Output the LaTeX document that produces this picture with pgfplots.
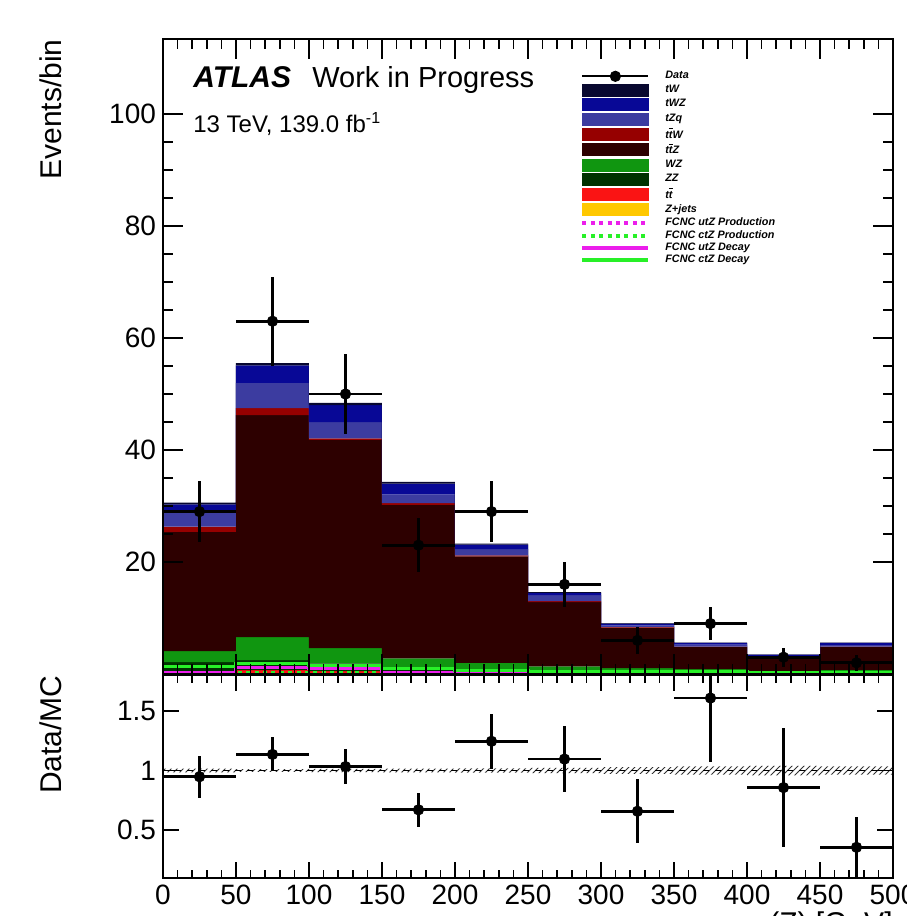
\documentclass[border=0pt]{standalone}
\usepackage{fontspec}
\setmainfont{Liberation Sans}
\usepackage{pgfplots}
\pgfplotsset{compat=1.18}
\usepackage{pgfplotstable}
\usetikzlibrary{patterns}

\definecolor{cTW}{RGB}{8,8,48}
\definecolor{cTWZ}{RGB}{8,8,150}
\definecolor{cTZQ}{RGB}{60,60,160}
\definecolor{cTTW}{RGB}{150,0,0}
\definecolor{cTTZ}{RGB}{45,0,0}
\definecolor{cWZ}{RGB}{16,150,16}
\definecolor{cZZ}{RGB}{0,50,0}
\definecolor{cTT}{RGB}{250,20,20}
\definecolor{cZJ}{RGB}{255,200,0}
\definecolor{cU}{RGB}{235,30,235}
\definecolor{cC}{RGB}{40,240,40}

% MC stack, per bin (low edge), last row repeats last bin
\pgfplotstableread{
x   zj   tt   zz   wz    ttz    ttw   tzq  twz  tw
0   0.2  0.3  1.6  2.0   21.3   0.9   2.5  1.5  0.3
50  0.2  0.5  1.8  4.1   39.65  1.25  4.5  3.1  0.4
100 0.2  0.3  1.4  2.7   37.2   0.3   2.9  3.0  0.4
150 0.1  0.2  0.8  1.7   27.4   0.3   1.6  1.9  0.3
200 0.1  0.1  0.6  1.2   19.0   0.2   1.1  0.8  0.2
250 0.1  0.1  0.4  0.75  11.5   0.15  1.1  0.4  0.1
300 0.1  0.05 0.3  0.6   7.25   0.1   0.3  0.3  0.1
350 0.1  0.05 0.2  0.5   4.0    0.05  0.35 0.3  0.05
400 0.1  0.0  0.1  0.3   2.45   0.05  0.2  0.25 0.05
450 0.1  0.05 0.2  0.4   4.1    0.05  0.3  0.35 0.05
500 0.1  0.05 0.2  0.4   4.1    0.05  0.3  0.35 0.05
}\stack

% FCNC signal lines
\pgfplotstableread{
x   uP   cP   uD   cD
0   0.15 0.15 0.3  1.3
50  0.3  0.3  1.1  1.9
100 0.3  0.3  1.0  1.6
150 0.1  0.1  0.3  0.9
200 0.1  0.1  0.2  0.7
250 0.05 0.05 0.1  0.5
300 0.05 0.05 0.05 0.4
350 0.02 0.02 0.05 0.4
400 0.02 0.02 0.02 0.3
450 0.02 0.02 0.02 0.3
500 0.02 0.02 0.02 0.3
}\fcnc

% Data
\pgfplotstableread{
x   y   ex  ey
25  29  25  5.39
75  63  25  7.94
125 50  25  7.07
175 23  25  4.80
225 29  25  5.39
275 16  25  4.00
325 6   25  2.45
375 9   25  3.00
425 3   25  1.73
475 2   25  1.41
}\data

% Ratio Data/MC
\pgfplotstableread{
x   r      ex  er
25  0.948  25  0.176
75  1.135  25  0.143
125 1.033  25  0.146
175 0.671  25  0.140
225 1.245  25  0.231
275 1.096  25  0.274
325 0.659  25  0.269
375 1.607  25  0.536
425 0.857  25  0.495
475 0.357  25  0.253
}\ratio

% MC uncertainty band in ratio: lower edge and width
\pgfplotstableread{
x   lo     w
0   0.985  0.030
50  0.988  0.024
100 0.987  0.026
150 0.985  0.030
200 0.982  0.036
250 0.978  0.044
300 0.972  0.056
350 0.965  0.070
400 0.960  0.080
450 0.965  0.070
500 0.965  0.070
}\band

\pgfplotsset{
  fleg/.style={legend image code/.code={\fill[#1] (0pt,-3pt) rectangle (33pt,3pt);}},
  lleg/.style={legend image code/.code={\draw[#1, line width=2pt] (0pt,0pt) -- (33pt,0pt);}},
  dleg/.style={legend image code/.code={\draw[#1, line width=2pt, dash pattern=on 2pt off 2.2pt] (0pt,0pt) -- (33pt,0pt);}},
  common/.style={
    scale only axis, width=365pt,
    xmin=0, xmax=500,
    xtick={0,50,...,500}, minor x tick num=4,
    tick align=inside,
    axis on top,
    axis line style={line width=0.8pt},
    tick style={line width=0.8pt, black},
    tick label style={font=\fontsize{14}{16}\selectfont},
    /pgf/number format/assume math mode=true,
  },
}

\begin{document}
\begin{tikzpicture}
\useasboundingbox (-81.5pt,-121pt) rectangle (371.5pt,337pt);
\begin{axis}[common, name=main,
  height=317.5pt,
  ymin=0, ymax=113.4,
  xticklabels={},
  ytick={20,40,60,80,100}, minor y tick num=3,
  major tick length=10pt, minor tick length=5pt,
  legend style={at={(axis description cs:0.563,0.957)}, anchor=north west,
    draw=none, fill=none, font=\fontsize{5.4}{6}\selectfont\bfseries\itshape,
    row sep=0.85pt, legend cell align=left, nodes={inner sep=0pt},
    /tikz/every odd column/.append style={column sep=7.5pt}},
]
% stacked MC
\addplot[stack plots=y, const plot, fill=cZJ, draw=none, forget plot] table[x=x, y=zj] {\stack} \closedcycle;
\addplot[stack plots=y, const plot, fill=cTT, draw=none, forget plot] table[x=x, y=tt] {\stack} \closedcycle;
\addplot[stack plots=y, const plot, fill=cZZ, draw=none, forget plot] table[x=x, y=zz] {\stack} \closedcycle;
\addplot[stack plots=y, const plot, fill=cWZ, draw=none, forget plot] table[x=x, y=wz] {\stack} \closedcycle;
\addplot[stack plots=y, const plot, fill=cTTZ, draw=none, forget plot] table[x=x, y=ttz] {\stack} \closedcycle;
\addplot[stack plots=y, const plot, fill=cTTW, draw=none, forget plot] table[x=x, y=ttw] {\stack} \closedcycle;
\addplot[stack plots=y, const plot, fill=cTZQ, draw=none, forget plot] table[x=x, y=tzq] {\stack} \closedcycle;
\addplot[stack plots=y, const plot, fill=cTWZ, draw=none, forget plot] table[x=x, y=twz] {\stack} \closedcycle;
\addplot[stack plots=y, const plot, fill=cTW, draw=none, forget plot] table[x=x, y=tw] {\stack} \closedcycle;
% FCNC lines
\addplot[const plot, cU, line width=1.5pt, dash pattern=on 2pt off 2.2pt, forget plot] table[x=x, y=uP] {\fcnc};
\addplot[const plot, cC, line width=1.5pt, dash pattern=on 2pt off 2.2pt, forget plot] table[x=x, y=cP] {\fcnc};
\addplot[const plot, cU, line width=1.5pt, forget plot] table[x=x, y=uD] {\fcnc};
\addplot[const plot, cC, line width=1.5pt, forget plot] table[x=x, y=cD] {\fcnc};
% data
\addplot[black, only marks, mark=*, mark size=2.6pt, forget plot,
  error bars/.cd, x dir=both, x explicit, y dir=both, y explicit,
  error bar style={line width=1.4pt, black}, error mark=none]
  table[x=x, y=y, x error=ex, y error=ey] {\data};
% legend
\addlegendimage{legend image code/.code={\draw[black, line width=1pt] (0pt,0pt) -- (33pt,0pt); \fill[black] (16.5pt,0pt) circle (2.6pt);}}
\addlegendentry{Data}
\addlegendimage{fleg=cTW}\addlegendentry{tW}
\addlegendimage{fleg=cTWZ}\addlegendentry{tWZ}
\addlegendimage{fleg=cTZQ}\addlegendentry{tZq}
\addlegendimage{fleg=cTTW}\addlegendentry{t$\overline{\mbox{t}}$W}
\addlegendimage{fleg=cTTZ}\addlegendentry{t$\overline{\mbox{t}}$Z}
\addlegendimage{fleg=cWZ}\addlegendentry{WZ}
\addlegendimage{fleg=cZZ}\addlegendentry{ZZ}
\addlegendimage{fleg=cTT}\addlegendentry{t$\overline{\mbox{t}}$}
\addlegendimage{fleg=cZJ}\addlegendentry{Z+jets}
\addlegendimage{dleg=cU}\addlegendentry{FCNC utZ Production}
\addlegendimage{dleg=cC}\addlegendentry{FCNC ctZ Production}
\addlegendimage{lleg=cU}\addlegendentry{FCNC utZ Decay}
\addlegendimage{lleg=cC}\addlegendentry{FCNC ctZ Decay}
% texts
\node[anchor=base west, inner sep=0pt, font=\fontsize{15}{18}\selectfont\bfseries\itshape] at (axis description cs:0.041,0.924) {ATLAS};
\node[anchor=base west, inner sep=0pt, font=\fontsize{14.5}{18}\selectfont] at (axis description cs:0.204,0.924) {Work in Progress};
\node[anchor=base west, inner sep=0pt, font=\fontsize{12}{14}\selectfont] at (axis description cs:0.041,0.8535) {13 TeV, 139.0 fb\textsuperscript{-1}};
\end{axis}
\node[rotate=90, anchor=base east, inner sep=0pt, font=\fontsize{15}{18}\selectfont] at ([xshift=-50.5pt]main.north west) {Events/bin};

\begin{axis}[common, name=ratio,
  at={(main.south west)}, anchor=north west, yshift=-0.5pt,
  height=101.5pt,
  ymin=0.1, ymax=1.8,
  ytick={0.5,1,1.5}, yticklabels={0.5,1,1.5},
  major tick length=8pt, minor tick length=4pt,
]
\addplot[stack plots=y, const plot, draw=none, forget plot] table[x=x, y=lo] {\band};
\addplot[stack plots=y, const plot, draw=none, pattern=north east lines, pattern color=black!80, forget plot] table[x=x, y=w] {\band} \closedcycle;
\addplot[black, dashed, line width=0.6pt, forget plot] coordinates {(0,1) (500,1)};
\addplot[black, only marks, mark=*, mark size=2.6pt, forget plot,
  error bars/.cd, x dir=both, x explicit, y dir=both, y explicit,
  error bar style={line width=1.4pt, black}, error mark=none]
  table[x=x, y=r, x error=ex, y error=er] {\ratio};
\end{axis}
\node[rotate=90, anchor=base east, inner sep=0pt, font=\fontsize{15}{18}\selectfont] at ([xshift=-50.5pt]ratio.north west) {Data/MC};
\node[anchor=north east, inner sep=0pt, font=\fontsize{15}{18}\selectfont] at ([yshift=-16.5pt]ratio.south east) {$p_{\mathrm{T}}$(Z) [GeV]};
\end{tikzpicture}
\end{document}
